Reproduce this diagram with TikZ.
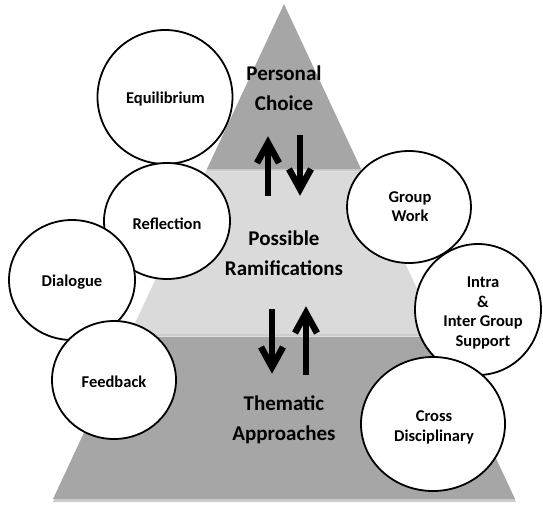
\documentclass[tikz,border=0pt]{standalone}
\usepackage{fontspec}
\setmainfont{Carlito}
\usetikzlibrary{shapes.geometric}
\definecolor{layerdark}{RGB}{166,166,166}
\definecolor{layerlight}{RGB}{218,218,218}
\definecolor{layershadow}{RGB}{205,205,205}
\begin{document}
\begin{tikzpicture}[x=1pt,y=-1pt,
  bubble/.style={ellipse, draw=black, line width=1.8pt, fill=white, inner sep=0pt},
  bubbletext/.style={align=center, inner sep=0pt, font=\bfseries\fontsize{16.5}{19.7}\selectfont},
  tierlabel/.style={align=center, inner sep=0pt, font=\bfseries\fontsize{21}{30}\selectfont},
  arrowstroke/.style={line width=6.5pt, line join=miter, line cap=butt, black}]
\useasboundingbox (0,0) rectangle (543,504);
% shadows
\fill[layershadow] (284,6.5) -- (362,171.5) -- (206,171.5) -- cycle;
\fill[layershadow] (205.6,174.5) -- (363.4,174.5) -- (439,336.5) -- (130,336.5) -- cycle;
\fill[layershadow] (128.6,339.5) -- (440.4,339.5) -- (516,502) -- (53,502) -- cycle;
% tiers
\fill[layerdark] (284,4) -- (361,169) -- (207,169) -- cycle;
\fill[layerlight] (205.6,172) -- (362.4,172) -- (438,334) -- (130,334) -- cycle;
\fill[layerdark] (128.6,337) -- (439.4,337) -- (515,499) -- (53,499) -- cycle;
% tier labels
\node[tierlabel] (choice) at (284,88) {Personal\\Choice};
\node[tierlabel] (ramif) at (284,253) {Possible\\Ramifications};
\node[tierlabel] (themat) at (284,420) {Thematic\\Approaches};
% arrows
\coordinate (aAbase) at (268,196); \coordinate (aAtip) at (268,137);
\coordinate (aBbase) at (300,135); \coordinate (aBtip) at (300,195);
\coordinate (aCbase) at (272,309); \coordinate (aCtip) at (272,373);
\coordinate (aDbase) at (306,375); \coordinate (aDtip) at (306,307);
\draw[arrowstroke] (aAbase) -- ([shift={(0,8)}]aAtip);
\draw[arrowstroke] ([shift={(-11,26)}]aAtip) -- ([shift={(0,6)}]aAtip) -- ([shift={(11,26)}]aAtip);
\draw[arrowstroke] (aBbase) -- ([shift={(0,-8)}]aBtip);
\draw[arrowstroke] ([shift={(-11,-26)}]aBtip) -- ([shift={(0,-6)}]aBtip) -- ([shift={(11,-26)}]aBtip);
\draw[arrowstroke] (aCbase) -- ([shift={(0,-8)}]aCtip);
\draw[arrowstroke] ([shift={(-11,-26)}]aCtip) -- ([shift={(0,-6)}]aCtip) -- ([shift={(11,-26)}]aCtip);
\draw[arrowstroke] (aDbase) -- ([shift={(0,8)}]aDtip);
\draw[arrowstroke] ([shift={(-11,26)}]aDtip) -- ([shift={(0,6)}]aDtip) -- ([shift={(11,26)}]aDtip);
% circles
\node[bubble, minimum width=135pt, minimum height=134pt] (equil) at (165,97) {};
\node[bubble, minimum width=126pt, minimum height=116pt] (refl) at (167,221) {};
\node[bubble, minimum width=126pt, minimum height=120pt] (dial) at (72,280) {};
\node[bubble, minimum width=124pt, minimum height=118pt] (feed) at (114,380) {};
\node[bubble, minimum width=124pt, minimum height=112pt] (group) at (409,207) {};
\node[bubble, minimum width=126pt, minimum height=131pt] (intra) at (478,309.5) {};
\node[bubble, minimum width=144pt, minimum height=134pt] (cross) at (433,424) {};
% circle texts
\node[bubbletext] (equilT) at (165.5,99.5) {Equilibrium};
\node[bubbletext] (reflT) at (167,224) {Reflection};
\node[bubbletext] (dialT) at (72,282.5) {Dialogue};
\node[bubbletext] (feedT) at (114,382) {Feedback};
\node[bubbletext] (groupT) at (410,206.7) {Group\\Work};
\node[bubbletext] (intraT) at (483,313) {Intra\\\&\\Inter Group\\Support};
\node[bubbletext] (crossT) at (434,427.3) {Cross\\Disciplinary};
\end{tikzpicture}
\end{document}
